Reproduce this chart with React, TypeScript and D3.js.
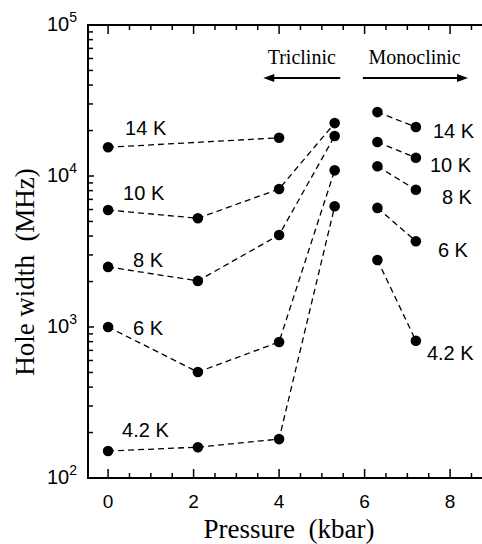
import React from "react";
import * as d3 from "d3";

// temperatures (series labels)
const temps = ["14 K", "10 K", "8 K", "6 K", "4.2 K"];

// triclinic phase: pressure (kbar) / hole width (MHz)
const tri14K = [[0, 15500], [4, 17900]];
const tri10K = [[0, 5950], [2.1, 5250], [4, 8200], [5.3, 22400]];
const tri8K = [[0, 2500], [2.1, 2020], [4, 4070], [5.3, 18400]];
const tri6K = [[0, 1000], [2.1, 503], [4, 796], [5.3, 10900]];
const tri42K = [[0, 151], [2.1, 160], [4, 181], [5.3, 6300]];

// monoclinic phase
const monoPressure = [6.3, 7.2];
const mono14K = [26500, 21100];
const mono10K = [16800, 13200];
const mono8K = [11600, 8100];
const mono6K = [6150, 3700];
const mono42K = [2780, 810];

const xTicks = [0, 2, 4, 6, 8];
const yTicks = [100, 1000, 10000, 100000];
const yExp = ["2", "3", "4", "5"];

const W = 482;
const H = 544;
const left = 88;
const top = 25;
const bottom = 478;

const x = d3.scaleLinear().domain([-0.47, 9.4]).range([left, left + 9.87 * 42.75]);
const y = d3.scaleLog().domain([100, 100000]).range([bottom, top]);

const triSeries = [tri14K, tri10K, tri8K, tri6K, tri42K];
const monoSeries = [mono14K, mono10K, mono8K, mono6K, mono42K].map((vals) =>
  vals.map((v, i) => [monoPressure[i], v])
);

// label offsets (px) from first point (left) and last point (right)
const leftOff = [[17, -12], [15, -10], [25, 0], [25, 8], [14, -14]];
const rightOff = [[17, 11], [14, 14], [26, 14], [22, 16], [11, 19]];

const sans = "'Liberation Sans', Arial, sans-serif";
const serif = "'Liberation Serif', 'Times New Roman', serif";

const line = d3
  .line<number[]>()
  .x((d) => x(d[0]))
  .y((d) => y(d[1]));

export default function App() {
  const xMinor = d3.range(0, 9.01, 0.5);
  const yMinor: number[] = [];
  [100, 1000, 10000].forEach((b) => {
    for (let k = 2; k <= 9; k++) yMinor.push(b * k);
  });
  const right = x(9.4);

  return (
    <svg
      width={W}
      height={H}
      style={{ position: "absolute", left: 0, top: 0, background: "#fff" }}
    >
      {/* frame */}
      <g stroke="#000" strokeWidth={2} fill="none">
        <line x1={left} x2={left} y1={top - 1} y2={bottom + 1} />
        <line x1={left - 1} x2={right} y1={top} y2={top} />
        <line x1={left - 1} x2={right} y1={bottom} y2={bottom} />
      </g>

      {/* ticks */}
      <g stroke="#000" strokeWidth={1.5}>
        {xMinor.map((t) => {
          const major = Math.abs(t % 2) < 1e-6;
          const len = major ? 9 : 5;
          return (
            <g key={t}>
              <line x1={x(t)} x2={x(t)} y1={bottom} y2={bottom - len} />
              <line x1={x(t)} x2={x(t)} y1={top} y2={top + len} />
            </g>
          );
        })}
        {yMinor.concat(yTicks).map((t) => (
          <line key={t} x1={left} x2={left + (yTicks.includes(t) ? 6 : 5)} y1={y(t)} y2={y(t)} />
        ))}
      </g>

      {/* tick labels */}
      <g fontFamily={sans} fill="#000">
        {xTicks.map((t) => (
          <text key={t} x={x(t)} y={bottom + 30} textAnchor="middle" fontSize={19}>
            {t}
          </text>
        ))}
        {yTicks.map((t, i) => (
          <text key={t} x={77} y={y(t) + 6} textAnchor="end" fontSize={20}>
            10
            <tspan fontSize={14} dy={-9}>
              {yExp[i]}
            </tspan>
          </text>
        ))}
      </g>

      {/* axis titles */}
      <text
        x={289}
        y={538}
        textAnchor="middle"
        fontFamily={serif}
        fontSize={27}
        style={{ whiteSpace: "pre" }}
      >
        {"Pressure  (kbar)"}
      </text>
      <text
        transform={`translate(34, 272) rotate(-90)`}
        textAnchor="middle"
        fontFamily={serif}
        fontSize={27}
        style={{ whiteSpace: "pre" }}
      >
        {"Hole width  (MHz)"}
      </text>

      {/* phase annotations */}
      <g fontFamily={serif} fontSize={20} fill="#000">
        <text x={x(4.53)} y={64} textAnchor="middle">Triclinic</text>
        <text x={x(7.17)} y={64} textAnchor="middle">Monoclinic</text>
      </g>
      <g stroke="#000" strokeWidth={2}>
        <line x1={x(3.63) + 8} x2={x(5.43)} y1={78} y2={78} />
        <line x1={x(5.96)} x2={x(8.42) - 8} y1={78} y2={78} />
      </g>
      <path
        d={`M${x(3.63)},78 l11,-4 v8 z M${x(8.42)},78 l-11,-4 v8 z`}
        fill="#000"
      />

      {/* series */}
      <g fill="none" stroke="#000" strokeWidth={1.3} strokeDasharray="6,4">
        {triSeries.map((s, i) => (
          <path key={"t" + i} d={line(s) || ""} />
        ))}
        {monoSeries.map((s, i) => (
          <path key={"m" + i} d={line(s) || ""} />
        ))}
      </g>
      <g fill="#000">
        {triSeries.concat(monoSeries).flatMap((s, i) =>
          s.map((d, j) => <circle key={i + "-" + j} cx={x(d[0])} cy={y(d[1])} r={5.3} />)
        )}
      </g>

      {/* temperature labels */}
      <g fontFamily={sans} fontSize={20} fill="#000">
        {triSeries.map((s, i) => (
          <text key={"l" + i} x={x(s[0][0]) + leftOff[i][0]} y={y(s[0][1]) + leftOff[i][1]}>
            {temps[i]}
          </text>
        ))}
        {monoSeries.map((s, i) => {
          const p = s[s.length - 1];
          return (
            <text key={"r" + i} x={x(p[0]) + rightOff[i][0]} y={y(p[1]) + rightOff[i][1]}>
              {temps[i]}
            </text>
          );
        })}
      </g>
    </svg>
  );
}
